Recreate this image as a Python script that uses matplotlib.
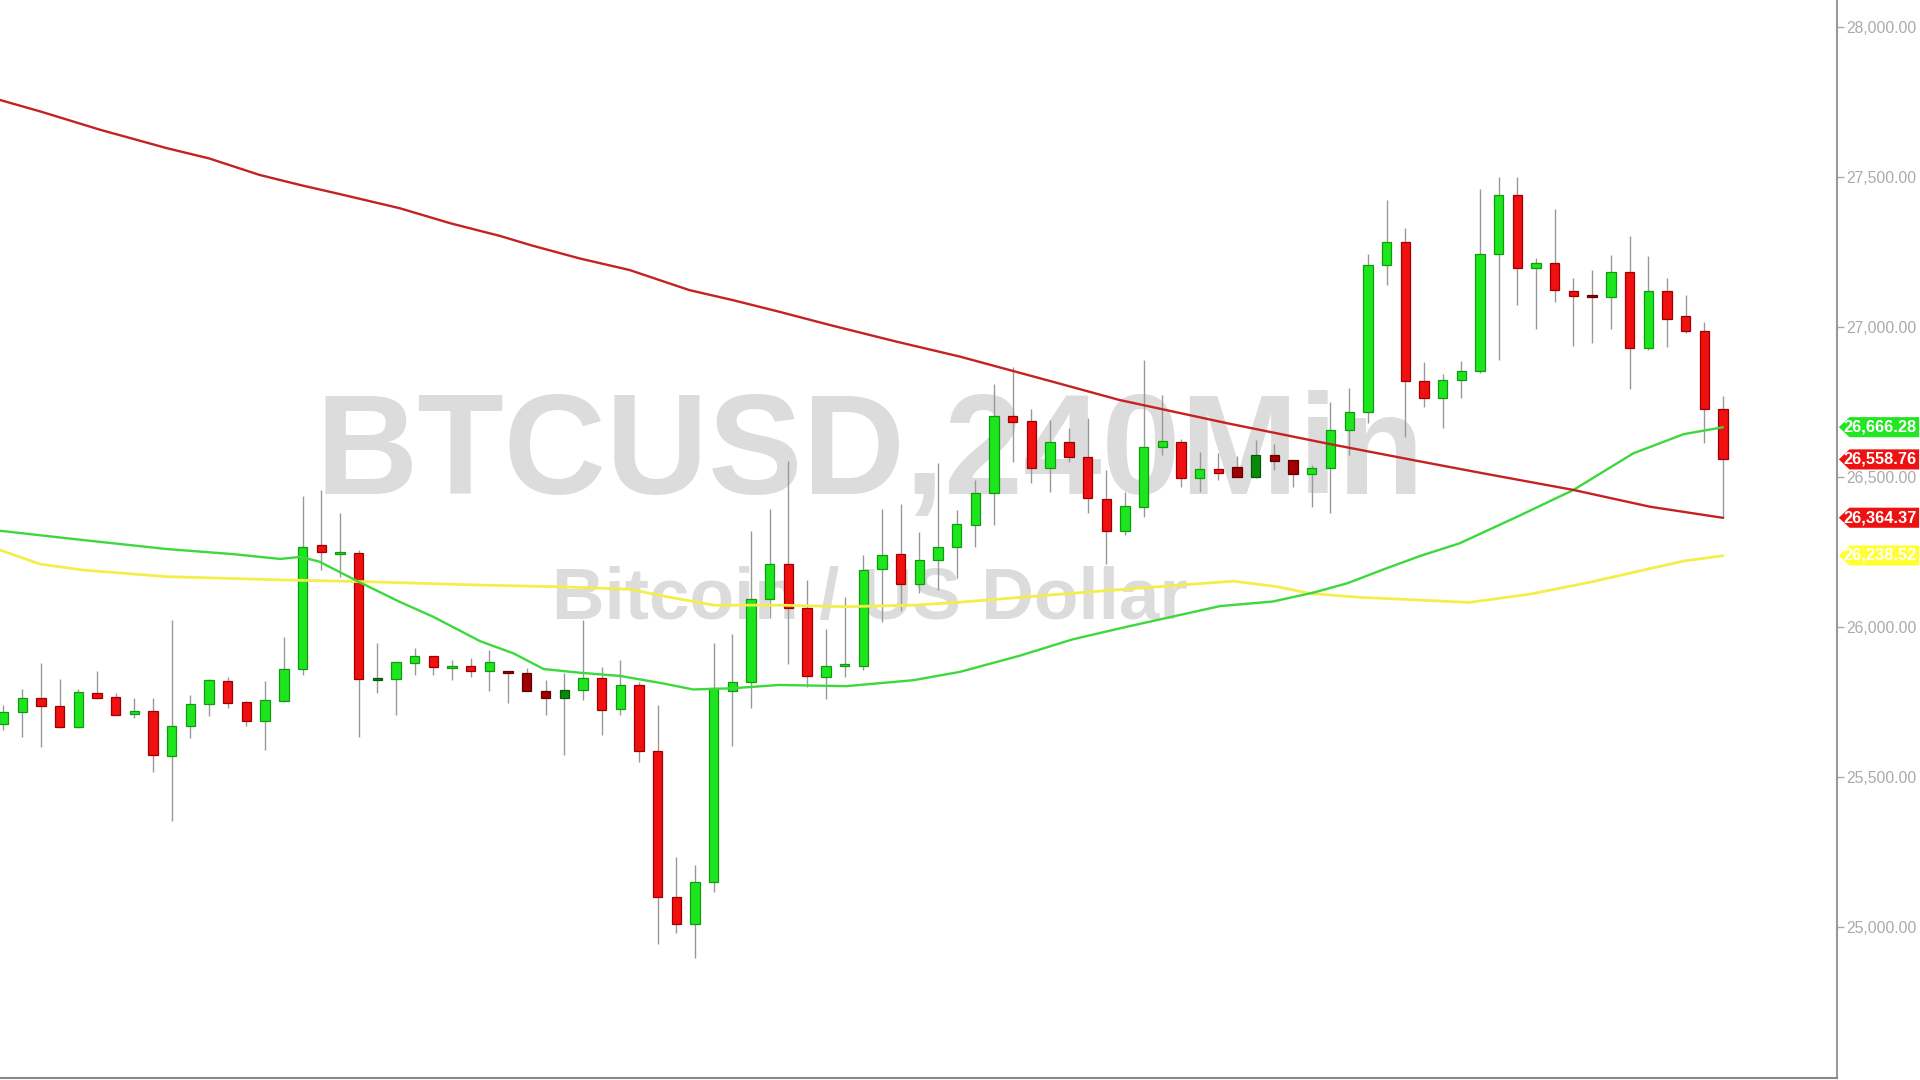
import matplotlib
matplotlib.use('Agg')
import matplotlib.pyplot as plt
from matplotlib.patches import Polygon
from matplotlib.ticker import FuncFormatter

# ---------------- data ----------------
opens = [25676, 25716, 25762, 25737, 25666, 25779, 25766, 25709, 25720, 25571,
         25671, 25743, 25821, 25749, 25688, 25755, 25860, 26272, 26247, 26246,
         25826, 25828, 25881, 25905, 25866, 25871, 25853, 25851, 25848, 25787,
         25765, 25790, 25829, 25726, 25807, 25588, 25101, 25009, 25149, 25787,
         25816, 26092, 26209, 26065, 25835, 25871, 25871, 26192, 26242, 26142,
         26223, 26268, 26340, 26446, 26703, 26687, 26529, 26618, 26568, 26427,
         26320, 26401, 26599, 26618, 26496, 26526, 26532, 26501, 26573, 26556,
         26509, 26529, 26657, 26716, 27207, 27284, 26820, 26762, 26823, 26853,
         27242, 27440, 27196, 27212, 27121, 27104, 27101, 27184, 26931, 27121,
         27037, 26987, 26726]
highs = [25740, 25793, 25881, 25826, 25792, 25855, 25779, 25765, 25762, 26023,
         25773, 25826, 25835, 25752, 25820, 25966, 26437, 26457, 26379, 26257,
         25946, 25884, 25929, 25905, 25890, 25896, 25923, 25853, 25862, 25823,
         25848, 26023, 25868, 25890, 25818, 25740, 25235, 25207, 25946, 25977,
         26320, 26392, 26554, 26157, 25992, 26101, 26240, 26392, 26410, 26318,
         26546, 26390, 26490, 26810, 26866, 26726, 26690, 26662, 26696, 26524,
         26451, 26890, 26773, 26626, 26584, 26579, 26570, 26624, 26610, 26556,
         26540, 26751, 26796, 27245, 27423, 27329, 26885, 26845, 26887, 27459,
         27501, 27501, 27229, 27392, 27162, 27190, 27240, 27303, 27237, 27162,
         27107, 27016, 26770]
lows = [25657, 25632, 25601, 25662, 25662, 25759, 25706, 25698, 25518, 25355,
        25631, 25703, 25729, 25670, 25590, 25751, 25840, 26190, 26168, 25635,
        25779, 25707, 25840, 25840, 25823, 25835, 25788, 25746, 25788, 25707,
        25573, 25757, 25640, 25707, 25551, 24943, 24979, 24896, 25116, 25605,
        25729, 26029, 25876, 25799, 25760, 25835, 25857, 26018, 26055, 26115,
        26123, 26162, 26268, 26340, 26551, 26479, 26451, 26551, 26381, 26210,
        26307, 26368, 26573, 26468, 26451, 26490, 26501, 26496, 26524, 26468,
        26401, 26379, 26573, 26679, 27140, 26634, 26734, 26662, 26765, 26846,
        26890, 27073, 26992, 27084, 26938, 26946, 26992, 26793, 26923, 26934,
        26979, 26612, 26362]
closes = [25716, 25762, 25737, 25666, 25782, 25765, 25708, 25720, 25573, 25671,
          25743, 25822, 25748, 25688, 25756, 25860, 26266, 26251, 26249, 25826,
          25830, 25882, 25905, 25866, 25868, 25853, 25884, 25849, 25788, 25765,
          25790, 25829, 25723, 25807, 25588, 25099, 25009, 25149, 25796, 25816,
          26092, 26209, 26065, 25838, 25870, 25874, 26190, 26240, 26142, 26223,
          26268, 26342, 26446, 26703, 26684, 26529, 26618, 26568, 26429, 26320,
          26403, 26599, 26621, 26496, 26526, 26515, 26501, 26573, 26555, 26509,
          26529, 26657, 26716, 27207, 27284, 26820, 26762, 26823, 26853, 27242,
          27440, 27196, 27212, 27123, 27104, 27100, 27184, 26931, 27121, 27027,
          26987, 26726, 26559]
dark_idx = [20, 27, 28, 29, 30, 66, 67, 68, 69, 85]

# moving averages: (bar position, value)
ma_red_pos = [-0.2, 2, 5.2, 8.75, 11, 13.7, 15.9, 18, 21.2, 23.9, 26.6, 28.2, 30.8,
              33.5, 36.7, 39, 41.5, 44.2, 47.8, 51.2, 56, 59.7, 65.5, 70.8, 75.8,
              79.2, 84, 88.1, 92]
ma_red_val = [27757, 27718, 27657, 27596, 27562, 27507, 27473, 27443, 27396, 27346,
              27303, 27273, 27229, 27190, 27123, 27090, 27051, 27007, 26951, 26901,
              26820, 26757, 26679, 26612, 26552, 26512, 26457, 26401, 26364]
ma_green_pos = [-0.2, 4.25, 8.75, 12.3, 14.8, 15.9, 16.9, 19, 21.2, 23, 25.5, 27.3,
                28.9, 30.8, 33, 35.3, 36.9, 39, 41.5, 45.1, 48.7, 51.2, 54.4, 57.2,
                60.1, 65.1, 67.9, 70.1, 71.9, 74, 75.8, 77.9, 81, 84, 87.2, 89.9, 92]
ma_green_val = [26321, 26290, 26260, 26243, 26227, 26234, 26218, 26151, 26084, 26034,
                25953, 25912, 25860, 25848, 25837, 25812, 25792, 25796, 25807, 25803,
                25823, 25851, 25905, 25959, 26001, 26070, 26085, 26115, 26146, 26196,
                26237, 26279, 26368, 26457, 26579, 26643, 26666]
ma_yellow_pos = [-0.2, 1.95, 4.25, 8.75, 15, 19.5, 25.5, 29.9, 33.5, 35.5, 38, 41.5,
                 45.1, 48.7, 51.2, 54.8, 58.3, 61.9, 65.8, 68.1, 69.9, 72.6, 75.8,
                 78.4, 81.7, 85, 88.1, 89.9, 92]
ma_yellow_val = [26257, 26210, 26190, 26168, 26157, 26151, 26140, 26134, 26126, 26101,
                 26073, 26073, 26068, 26073, 26083, 26101, 26118, 26135, 26153, 26135,
                 26112, 26099, 26090, 26082, 26110, 26151, 26195, 26220, 26238]

y_ticks = [25000, 25500, 26000, 26500, 27000, 27500, 28000]
label_values = [26666.28, 26558.76, 26364.37, 26238.52]
label_colors = ['#22e622', '#ee1111', '#ee1111', '#ffff33']
title_text = 'BTCUSD,240Min'
subtitle_text = 'Bitcoin / US Dollar'

# ---------------- styling ----------------
UP, UP_EDGE = '#1ee61e', '#0f9a0f'
DN, DN_EDGE = '#f01010', '#a00000'
DUP, DUP_EDGE = '#0a8a0a', '#055a05'
DDN, DDN_EDGE = '#a00000', '#600000'
GRAY = '#aaaaaa'

fig = plt.figure(figsize=(19.2, 10.8), dpi=100)
fig.patch.set_facecolor('white')
ax = fig.add_axes([0, 2 / 1080, 1837 / 1920, 1078 / 1080])
ax.set_facecolor('white')
n = len(opens)
xs = list(range(n))
ax.set_xlim(-0.187, 98.1)
ax.set_ylim(24497, 28090)

# watermark
ax.text(0.4736, 0.5417, title_text, transform=ax.transAxes, ha='center', va='baseline',
        fontsize=102, fontweight='bold', family='Liberation Sans', color='#dcdcdc', zorder=0.5)
ax.text(0.4738, 0.4258, subtitle_text, transform=ax.transAxes, ha='center', va='baseline',
        fontsize=52.5, fontweight='bold', family='Liberation Sans', color='#dcdcdc', zorder=0.5)

# wicks
ax.vlines(xs, lows, highs, colors='#999999', linewidth=1.0, zorder=2)

# bodies
faces, edges, bottoms, heights = [], [], [], []
for i in range(n):
    o, c = opens[i], closes[i]
    up = c >= o
    if i in dark_idx:
        fc, ec = (DUP, DUP_EDGE) if up else (DDN, DDN_EDGE)
    else:
        fc, ec = (UP, UP_EDGE) if up else (DN, DN_EDGE)
    faces.append(fc)
    edges.append(ec)
    lo, hi = min(o, c), max(o, c)
    h = hi - lo
    if h < 7:
        mid = (hi + lo) / 2
        lo, h = mid - 3.5, 7
    bottoms.append(lo)
    heights.append(h)
ax.bar(xs, heights, bottom=bottoms, width=0.5, color=faces, edgecolor=edges,
       linewidth=0.9, zorder=3)

# moving averages (on top of candles)
ax.plot(ma_yellow_pos, ma_yellow_val, color='#f4ee4a', linewidth=2.0, zorder=4,
        solid_capstyle='round', solid_joinstyle='round')
ax.plot(ma_green_pos, ma_green_val, color='#3cd83c', linewidth=1.7, zorder=4.1,
        solid_capstyle='round', solid_joinstyle='round')
ax.plot(ma_red_pos, ma_red_val, color='#c42222', linewidth=1.7, zorder=4.2,
        solid_capstyle='round', solid_joinstyle='round')

# axes styling
for s in ['top', 'left']:
    ax.spines[s].set_visible(False)
ax.spines['right'].set_color('#999999')
ax.spines['right'].set_linewidth(1.5)
ax.spines['bottom'].set_color('#888888')
ax.spines['bottom'].set_linewidth(1.5)
ax.set_xticks([])
ax.yaxis.tick_right()
ax.set_yticks(y_ticks)
ax.yaxis.set_major_formatter(FuncFormatter(lambda v, p: f'{v:,.2f}'))
ax.tick_params(axis='y', length=5, width=1, color=GRAY, labelcolor=GRAY, pad=2,
               labelsize=11.3)
for lab in ax.get_yticklabels():
    lab.set_family('Liberation Sans')

# price labels on the right axis
tr = ax.get_yaxis_transform()
half = 33.5
for v, col in zip(label_values, label_colors):
    poly = Polygon([(1.001, v), (1.0068, v + half), (1.0447, v + half),
                    (1.0447, v - half), (1.0068, v - half)], closed=True,
                   transform=tr, facecolor=col, edgecolor='none', clip_on=False, zorder=10)
    ax.add_patch(poly)
    ax.text(1.0435, v, f'{v:,.2f}', transform=tr, ha='right', va='center',
            color='white', fontsize=11.8, fontweight='bold', family='Liberation Sans',
            clip_on=False, zorder=11)

fig.savefig('out.png', dpi=100, facecolor='white')
